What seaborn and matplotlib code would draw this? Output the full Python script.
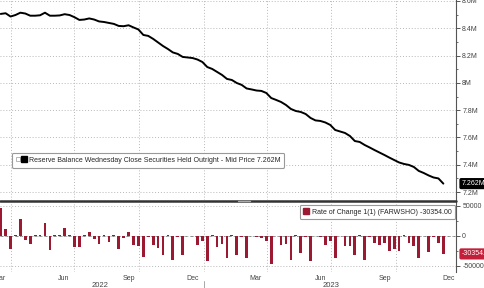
import matplotlib
matplotlib.use("Agg")
import matplotlib.pyplot as plt
import matplotlib.dates as mdates
import matplotlib.transforms as mtransforms
from matplotlib import font_manager
from matplotlib.lines import Line2D
from matplotlib.legend_handler import HandlerTuple
import pandas as pd
import seaborn as sns

# ---------------- data ----------------
dates = pd.date_range("2022-03-18", periods=91, freq="7D")  # weekly points as plotted

securities_m = [
    8.505, 8.510, 8.486, 8.497, 8.514, 8.508, 8.492, 8.492, 8.495, 8.514,
    8.492, 8.492, 8.494, 8.503, 8.497, 8.481, 8.461, 8.464, 8.472, 8.464,
    8.450, 8.446, 8.439, 8.432, 8.417, 8.415, 8.422, 8.406, 8.391, 8.351,
    8.344, 8.322, 8.296, 8.270, 8.248, 8.223, 8.212, 8.190, 8.186, 8.182,
    8.171, 8.153, 8.116, 8.102, 8.080, 8.058, 8.029, 8.021, 7.999, 7.985,
    7.959, 7.952, 7.944, 7.941, 7.926, 7.889, 7.875, 7.860, 7.838, 7.809,
    7.794, 7.787, 7.772, 7.743, 7.725, 7.721, 7.710, 7.692, 7.655, 7.644,
    7.633, 7.611, 7.574, 7.567, 7.545, 7.527, 7.508, 7.490, 7.472, 7.453,
    7.435, 7.417, 7.406, 7.399, 7.384, 7.355, 7.340, 7.322, 7.307, 7.300,
    7.262,
]

rate_of_change = [
    46000, 11300, -21500, 2000, 27700, -7300, -13000, 2000, 2000, 22000,
    -24300, 2000, 1500, 13500, 2000, -18600, -18600, 2000, 5600, -6200,
    -13000, 2000, -10700, 500, -21500, -3400, 6800, -14700, -17800, -36000,
    -2500, -15000, -20500, -31600, 500, -40000, -2500, -31600, 300, -500,
    -15000, -9400, -41600, 500, -19400, -13900, -37000, 400, -31600, -2500,
    -37000, 300, -2500, -3000, -9400, -47000, 300, -15000, -14000, -41000,
    500, -29000, -2500, -41600, 300, -1500, -15000, -9400, -37000, 300,
    -17800, -17800, -31600, 400, -41000, -2500, -12000, -16000, -12000, -25000,
    -21600, -26000, 400, -12000, -17800, -37000, 300, -27000, -2000, -12000,
    -30354,
]

top_ticks = [7.2, 7.4, 7.6, 7.8, 8.0, 8.2, 8.4, 8.6]
top_tick_labels = ["7.2M", "7.4M", "7.6M", "7.8M", "8M", "8.2M", "8.4M", "8.6M"]
bottom_ticks = [-50000, 0, 50000]
bottom_tick_labels = ["-50000", "0", "50000"]
month_label_dates = ["2022-03-16", "2022-06-16", "2022-09-16", "2022-12-16",
                     "2023-03-16", "2023-06-16", "2023-09-16", "2023-12-16"]
month_labels = ["Mar", "Jun", "Sep", "Dec", "Mar", "Jun", "Sep", "Dec"]
year_label_dates = ["2022-08-07", "2023-07-01"]
year_labels = ["2022", "2023"]

top_legend = "Reserve Balance Wednesday Close Securities Held Outright - Mid Price 7.262M"
bottom_legend = "Rate of Change 1(1) (FARWSHO) -30354.00"
last_top_tag = "7.262M"
last_bottom_tag = "-30354.00"

# ---------------- style ----------------
sns.set_style("white")
names = {f.name for f in font_manager.fontManager.ttflist}
base = "Liberation Sans Narrow" if "Liberation Sans Narrow" in names else "Liberation Sans"
plt.rcParams["font.family"] = [base, "DejaVu Sans"]

W, H = 485, 288
fig = plt.figure(figsize=(W / 100, H / 100), dpi=100)
ax1 = fig.add_axes([0, 1 - 200 / H, 456 / W, 200 / H])
ax2 = fig.add_axes([0, 1 - 272 / H, 456 / W, 70 / H])

x = mdates.date2num(dates)
line_color = "black"
bar_color = "#9c1a31"
tag_red = "#c41f3a"
grid_kw = dict(linestyle=(0, (1, 2)), color="#b8b8b8", linewidth=0.7)

sns.lineplot(x=x, y=securities_m, ax=ax1, color=line_color, linewidth=1.4)
sns.barplot(x=x, y=rate_of_change, ax=ax2, native_scale=True, color=bar_color,
            saturation=1, width=0.55, errorbar=None)
# make each weekly bar ~3.9 days wide, centred on its own date
bar_days = 3.9
for p in ax2.patches:
    c = p.get_x() + p.get_width() / 2
    p.set_width(bar_days)
    p.set_x(c - bar_days / 2)
    p.set_linewidth(0)

xl = mdates.date2num(pd.Timestamp("2022-03-17"))
xr = mdates.date2num(pd.Timestamp("2023-12-26"))

for ax in (ax1, ax2):
    ax.set_xlim(xl, xr)
    ax.set_xlabel("")
    ax.set_ylabel("")
    ax.yaxis.tick_right()
    for s in ["top", "left", "bottom"]:
        ax.spines[s].set_visible(False)
    ax.spines["right"].set_color("#555555")
    ax.spines["right"].set_linewidth(0.8)
    ax.xaxis.set_major_locator(mdates.MonthLocator(bymonth=[1, 4, 7, 10]))
    ax.xaxis.set_minor_locator(mdates.MonthLocator(bymonth=[2, 3, 5, 6, 8, 9, 11, 12]))
    ax.grid(axis="x", which="major", **grid_kw)
    ax.grid(axis="y", which="major", **grid_kw)
    ax.tick_params(axis="x", which="both", labelbottom=False, length=0)
    ax.tick_params(axis="y", which="major", length=3, width=0.7, color="#555555",
                   labelsize=5, labelcolor="#444444", pad=1.5)
    ax.tick_params(axis="y", which="minor", length=1.6, width=0.6, color="#555555")
    ax.set_axisbelow(True)

ax1.set_ylim(7.142, 8.607)
ax1.set_yticks(top_ticks)
ax1.set_yticklabels(top_tick_labels)
ax1.set_yticks([7.3, 7.5, 7.7, 7.9, 8.1, 8.3, 8.5], minor=True)

ax2.set_ylim(-60500, 56200)
ax2.set_yticks(bottom_ticks)
ax2.set_yticklabels(bottom_tick_labels)
ax2.set_yticks([-25000, 25000], minor=True)
ax2.tick_params(axis="x", which="both", length=2, width=0.6, color="#777777", direction="out")
ax2.axhline(0, color="#8a8a8a", linestyle=(0, (3, 2)), linewidth=0.7, zorder=0)

# month & year labels
tr = mtransforms.blended_transform_factory(ax2.transData, ax2.transAxes)
for d, lab in zip(month_label_dates, month_labels):
    ax2.text(mdates.date2num(pd.Timestamp(d)), -0.1, lab, transform=tr, ha="center",
             va="center", fontsize=5, color="#444444", clip_on=False)
for d, lab in zip(year_label_dates, year_labels):
    ax2.text(mdates.date2num(pd.Timestamp(d)), -0.19, lab, transform=tr, ha="center",
             va="center", fontsize=5.5, color="#444444", clip_on=False)
xsep = mdates.date2num(pd.Timestamp("2023-01-01"))
ax2.add_line(Line2D([xsep, xsep], [-0.13, -0.25], transform=tr, color="#999999",
                    linewidth=0.6, clip_on=False))

# last value tags
tr1 = mtransforms.blended_transform_factory(ax1.transAxes, ax1.transData)
ax1.text(1.012, securities_m[-1], last_top_tag, transform=tr1, ha="left", va="center",
         color="white", fontsize=5, clip_on=False,
         bbox=dict(boxstyle="round,pad=0.3,rounding_size=0.25", fc="black", ec="none"))
tr2 = mtransforms.blended_transform_factory(ax2.transAxes, ax2.transData)
ax2.text(1.012, rate_of_change[-1], last_bottom_tag, transform=tr2, ha="left", va="center",
         color="white", fontsize=5, clip_on=False,
         bbox=dict(boxstyle="round,pad=0.3,rounding_size=0.25", fc=tag_red, ec="none"))

# legends
h_top = (Line2D([], [], marker="s", linestyle="", markersize=3, mfc="none", mec="#aaaaaa", mew=0.6),
         Line2D([], [], marker="s", linestyle="", markersize=4.5, color="black"))
leg1 = ax1.legend([h_top], [top_legend], loc="upper left", bbox_to_anchor=(0.026, 0.235),
                  handler_map={tuple: HandlerTuple(ndivide=None, pad=0.2)},
                  fontsize=5.0, frameon=True, fancybox=True, edgecolor="#999999",
                  facecolor="white", framealpha=1, handlelength=1.6, handletextpad=0.3,
                  borderpad=0.55, borderaxespad=0)
leg1.get_frame().set_linewidth(0.8)
h_bot = Line2D([], [], marker="s", linestyle="", markersize=4.5, color=bar_color)
leg2 = ax2.legend([h_bot], [bottom_legend], loc="upper right", bbox_to_anchor=(0.998, 0.96),
                  fontsize=5.0, frameon=True, fancybox=True, edgecolor="#999999",
                  facecolor="white", framealpha=1, handlelength=0.8, handletextpad=0.35,
                  borderpad=0.55, borderaxespad=0)
leg2.get_frame().set_linewidth(0.8)

# panel separator
fig.add_artist(Line2D([0, 456 / W], [1 - 201 / H] * 2, transform=fig.transFigure,
                      color="#333333", linewidth=1.8))
fig.add_artist(Line2D([238 / W, 250 / W], [1 - 201 / H] * 2, transform=fig.transFigure,
                      color="#aaaaaa", linewidth=1.0))

fig.savefig("out.png", dpi=100, facecolor="white")
